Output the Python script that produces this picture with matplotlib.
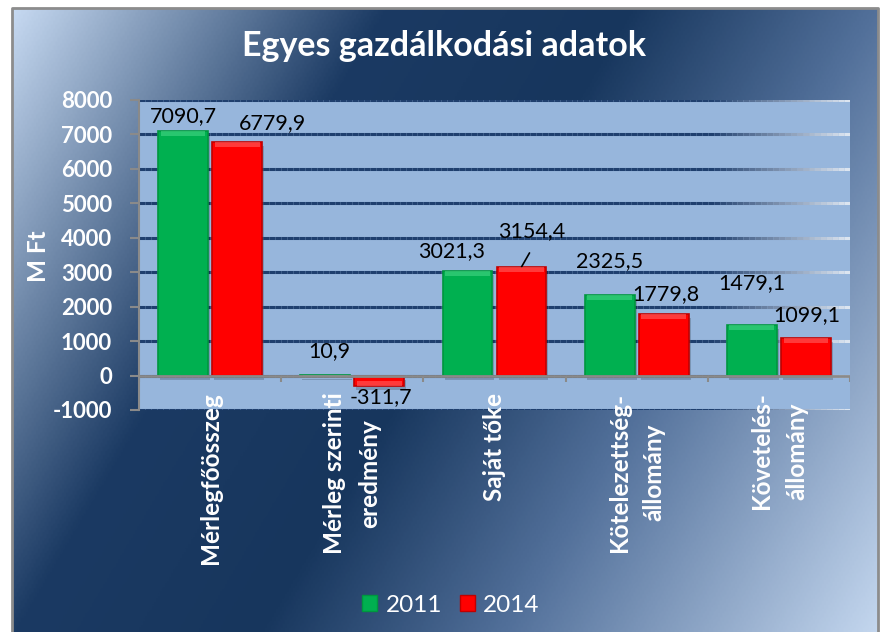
import numpy as np
import matplotlib.pyplot as plt
from matplotlib.colors import LinearSegmentedColormap, to_rgba
from matplotlib.collections import LineCollection
from matplotlib.patches import Patch

# Data
categories = ['Mérlegfőösszeg', 'Mérleg szerinti\neredmény', 'Saját tőke',
              'Kötelezettség-\nállomány', 'Követelés-\nállomány']
values_2011 = [7090.7, 10.9, 3021.3, 2325.5, 1479.1]
values_2014 = [6779.9, -311.7, 3154.4, 1779.8, 1099.1]
labels_2011 = ['7090,7', '10,9', '3021,3', '2325,5', '1479,1']
labels_2014 = ['6779,9', '-311,7', '3154,4', '1779,8', '1099,1']
series = ['2011', '2014']
yticks = list(range(-1000, 8001, 1000))

# label offsets (pixels) as placed in the original chart
offs_2011 = [(0, 15), (4, 24), (-16, 20), (0, 34), (0, 42)]
offs_2014 = [(35, 19), (2, -11), (10, 36), (2, 20), (1, 23)]

plt.rcParams['font.family'] = ['Lato', 'DejaVu Sans']
plt.rcParams['axes.unicode_minus'] = False

W, H = 885, 632
fig = plt.figure(figsize=(W / 100, H / 100), dpi=100)

# Gradient background of the chart area
bg = fig.add_axes([0, 0, 1, 1])
bg.set_xlim(0, W)
bg.set_ylim(H, 0)
bg.set_axis_off()
U, V = np.meshgrid(np.linspace(0, 1, 400), np.linspace(0, 1, 300))
T = 0.7 * U + 0.3 * V
cmap = LinearSegmentedColormap.from_list(
    'bg', [(0, '#C6D9F1'), (0.3, '#1B3A63'), (0.5, '#17365D'),
           (0.7, '#52709A'), (1, '#C3D6EE')])
bg.imshow(T, cmap=cmap, extent=(12, 878, 632, 8), aspect='auto', vmin=0, vmax=1)
bg.plot([12, 12, 878, 878], [632, 8, 8, 632], color='#8C8C8C', lw=2)

# Plot area
ax = fig.add_axes([139 / W, 1 - 410 / H, (850 - 139) / W, 310 / H])
ax.set_facecolor('#97B6DC')
ax.set_xlim(-0.5, 4.5)
ax.set_ylim(-1000, 8000)

# gridlines fading out to the right
n = 120
xs = np.linspace(-0.5, 4.5, n + 1)
dark = np.array(to_rgba('#1F3F6E'))
light = np.array(to_rgba('#E4ECF6'))
frac = np.clip(((xs[:-1] + 0.5) / 5 - 0.8) / 0.2, 0, 1)[:, None]
seg_colors = dark * (1 - frac) + light * frac
for y in yticks:
    segs = [[(xs[i], y), (xs[i + 1], y)] for i in range(n)]
    ax.add_collection(LineCollection(segs, colors=seg_colors, linewidths=2.2, zorder=1))

ax.axhline(0, color='#8A8A8A', lw=2, zorder=5)
ax.vlines(np.arange(-0.5, 5, 1), -200, 0, color='#8A8A8A', lw=1.5, zorder=5)

x = np.arange(len(categories))
w = 0.35
px = 9000 / 310  # data units per pixel on y
pxx = 5 / 711    # data units per pixel on x
for xpos, vals, face, edge, hi in [(x - 0.19, values_2011, '#00B050', '#00963F', '#4CD98A'),
                                   (x + 0.19, values_2014, '#FF0000', '#C00000', '#FF6A6A')]:
    # soft shadow
    ax.bar(xpos + 2 * pxx, [v - np.sign(v) * 0 for v in vals], w, bottom=-4 * px,
           color='black', alpha=0.18, lw=0, zorder=2)
    ax.bar(xpos, vals, w, color=face, edgecolor=edge, lw=1.2, zorder=3)
    # bevel highlight along the top of each bar
    hv = [np.sign(v) * min(abs(v), 5 * px) for v in vals]
    ax.bar(xpos, hv, w * 0.9, bottom=[v - h for v, h in zip(vals, hv)],
           color=hi, alpha=0.55, lw=0, zorder=4)

for i in range(len(categories)):
    ax.annotate(labels_2011[i], xy=(x[i] - 0.19, values_2011[i]), xytext=offs_2011[i],
                textcoords='offset pixels', ha='center', va='center', fontsize=15.5, color='black')
    ax.annotate(labels_2014[i], xy=(x[i] + 0.19, values_2014[i]), xytext=offs_2014[i],
                textcoords='offset pixels', ha='center', va='center', fontsize=15.5, color='black')

# leader line for 3154,4
ax.annotate('', xy=(x[2] + 0.19, values_2014[2]), xytext=(8, 14), textcoords='offset pixels',
            arrowprops=dict(arrowstyle='-', color='black', lw=1.2, shrinkA=0, shrinkB=0))

# category labels: rotated, lines centred on each other, block hanging below the axis
renderer = fig.canvas.get_renderer()
for i, cat in enumerate(categories):
    lines = cat.split('\n')
    shifts = [0.0] if len(lines) == 1 else [-17.5, 17.5]
    texts = []
    for ln, dx in zip(lines, shifts):
        t = ax.annotate(ln, xy=(x[i], 0), xytext=(dx, -17), textcoords='offset pixels',
                        rotation=90, ha='center', va='top',
                        fontsize=17.5, fontweight='bold', color='white')
        texts.append(t)
    lens = [t.get_window_extent(renderer).height for t in texts]
    for t, L, dx in zip(texts, lens, shifts):
        t.set_position((dx, -17 - (max(lens) - L) / 2))

for s in ['top', 'right', 'bottom']:
    ax.spines[s].set_visible(False)
ax.spines['left'].set_color('#8A8A8A')
ax.spines['left'].set_linewidth(1.5)
ax.set_xticks([])
ax.set_yticks(yticks)
ax.tick_params(axis='y', colors='#8A8A8A', labelcolor='white', labelsize=16,
               length=6.5, width=1.5, pad=13)
for lbl in ax.get_yticklabels():
    lbl.set_fontweight('bold')

fig.text(38 / W, 1 - 256 / H, 'M Ft', rotation=90, ha='center', va='center',
         fontsize=17.5, fontweight='bold', color='white')
fig.text(444 / W, 1 - 46 / H, 'Egyes gazdálkodási adatok', ha='center', va='center',
         fontsize=24.5, fontweight='bold', color='white')

handles = [Patch(facecolor='#00B050', edgecolor='#00963F'),
           Patch(facecolor='#FF0000', edgecolor='#C00000')]
fig.legend(handles=handles, labels=series, loc='center', bbox_to_anchor=(451 / W, 1 - 605 / H),
           ncol=2, frameon=False, fontsize=17.5, labelcolor='white',
           handlelength=0.6, handleheight=0.6, handletextpad=0.35, columnspacing=0.75)

plt.savefig('out.png', dpi=100)
